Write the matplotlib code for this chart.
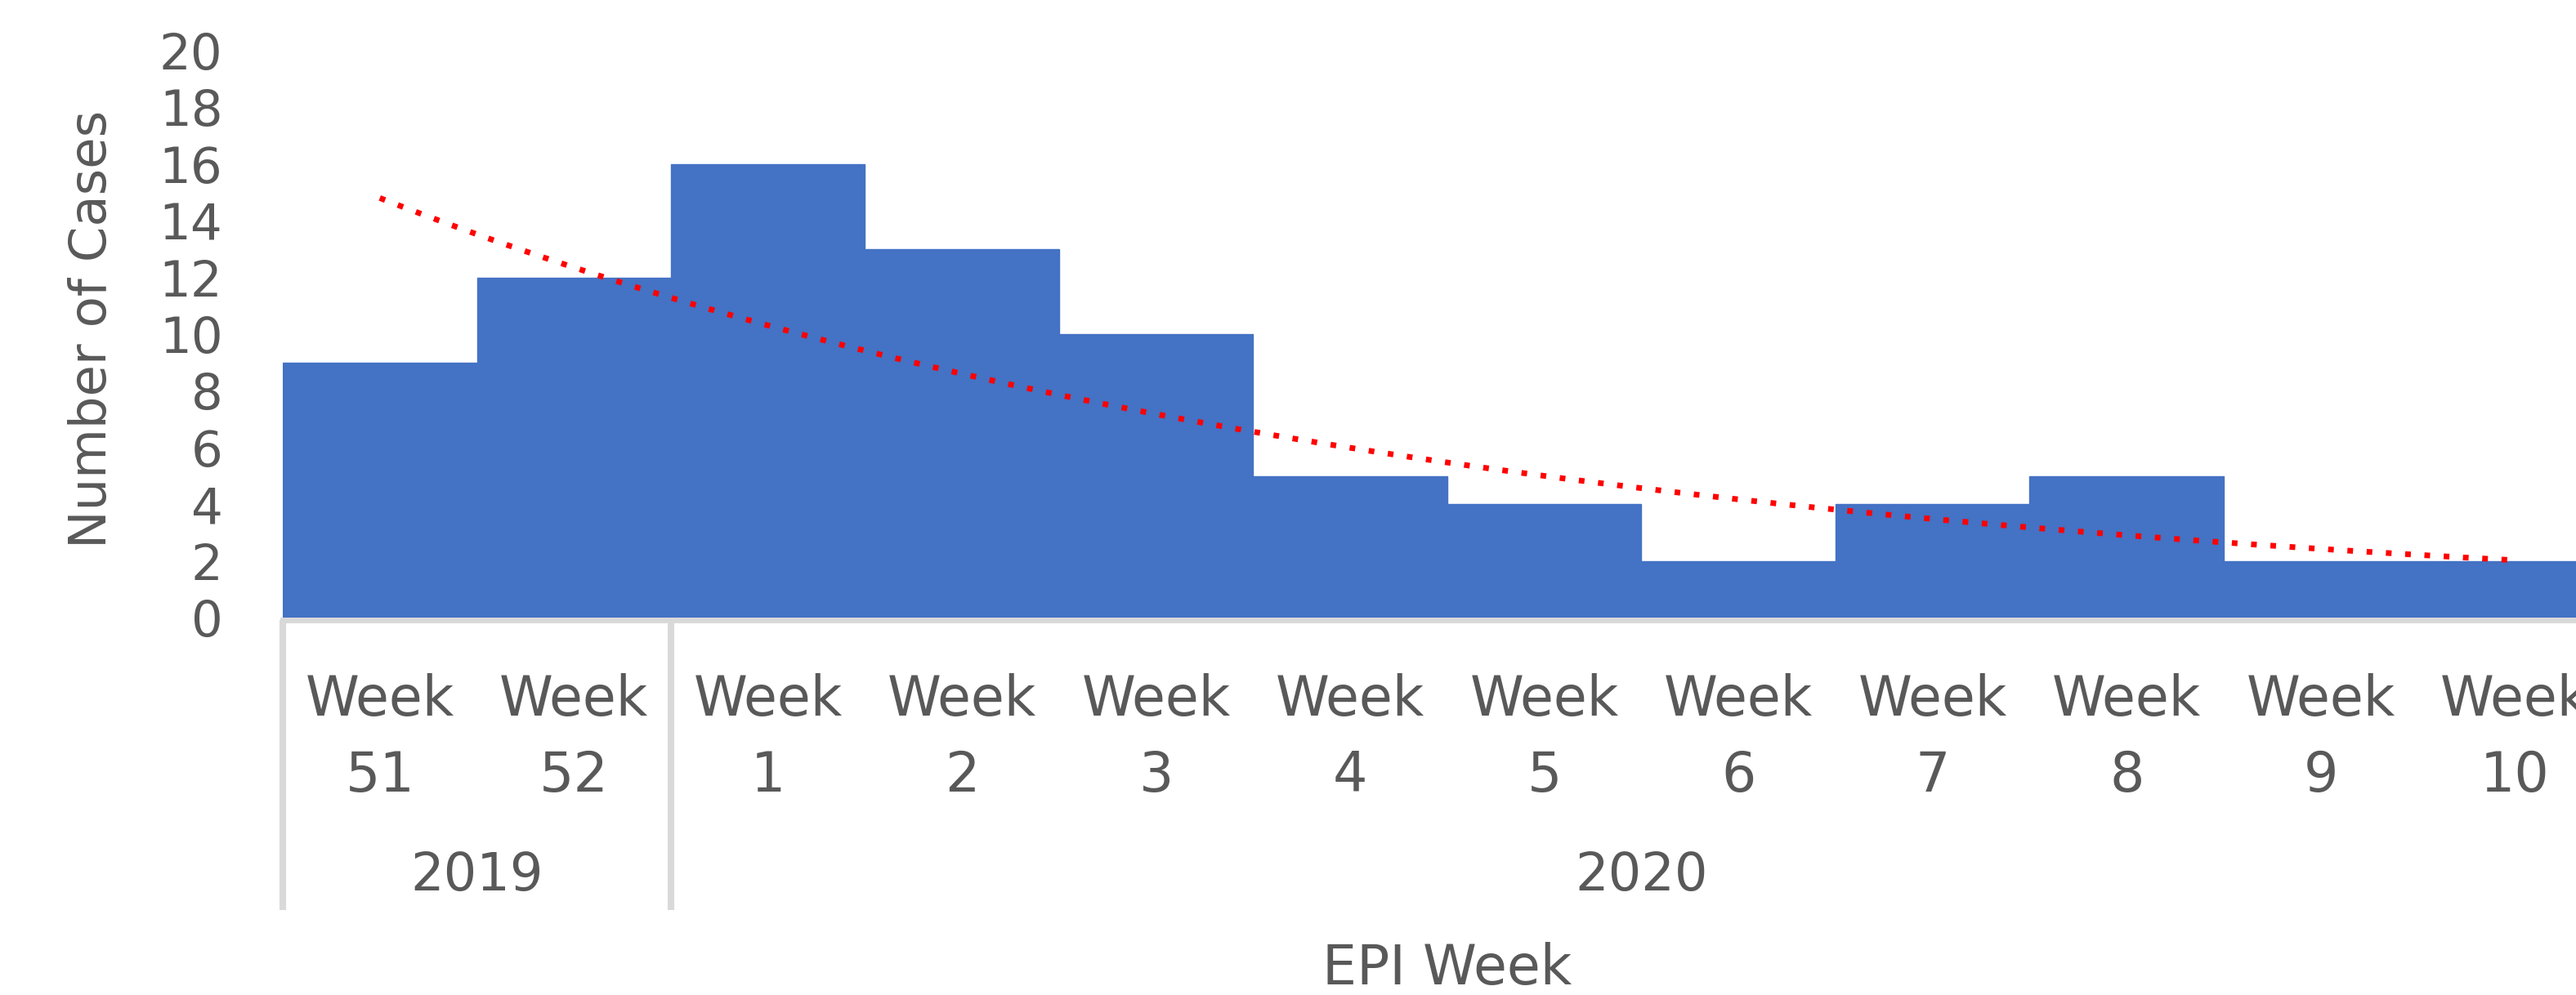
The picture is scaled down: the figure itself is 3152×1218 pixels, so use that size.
import numpy as np
import matplotlib
matplotlib.use("Agg")
import matplotlib.pyplot as plt
from matplotlib import font_manager

# ---------------- data ----------------
week_labels = ["51", "52", "1", "2", "3", "4", "5", "6", "7", "8", "9", "10"]
week_years = ["2019", "2019", "2020", "2020", "2020", "2020", "2020", "2020",
              "2020", "2020", "2020", "2020"]
cases = [9, 12, 16, 13, 10, 5, 4, 2, 4, 5, 2, 2]
y_ticks = [0, 2, 4, 6, 8, 10, 12, 14, 16, 18, 20]
y_title = "Number of Cases"
x_title = "EPI Week"
week_word = "Week"

# ---------------- style ----------------
BAR = "#4472C4"
TREND = "#FF0000"
TXT = "#595959"
GRID = "#D9D9D9"

W, H = 3152, 1218
fig = plt.figure(figsize=(W / 100, H / 100), dpi=100)

# axes geometry in pixels (extends a little beyond the right edge, like the reference)
ax_left, ax_right = 346, 3196
y0_px, y20_px = 756, 62
ax = fig.add_axes([ax_left / W, (H - y0_px) / H, (ax_right - ax_left) / W, (y0_px - y20_px) / H])

def ay(py):
    return (y0_px - py) / (y0_px - y20_px)

x = np.arange(len(cases))
ax.bar(x, cases, width=1.0, color=BAR, edgecolor=BAR, linewidth=1.0, zorder=2)

# exponential trendline fitted to the data (as Excel does)
coef = np.polyfit(x, np.log(cases), 1)
xs = np.linspace(x[0], x[-1], 400)
ax.plot(xs, np.exp(np.polyval(coef, xs)), color=TREND, lw=5.0,
        linestyle=(0, (1, 2.4)), dash_capstyle="butt", zorder=3)

ax.set_xlim(-0.5, len(cases) - 0.5)
ax.set_ylim(y_ticks[0], y_ticks[-1])

ax.set_yticks(y_ticks)
ax.set_yticklabels([str(v) for v in y_ticks], fontsize=44, color=TXT, family="DejaVu Sans")
ax.tick_params(axis="y", length=0, pad=53)
ax.set_xticks([])

for s in ["top", "right", "left"]:
    ax.spines[s].set_visible(False)
ax.spines["bottom"].set_color(GRID)
ax.spines["bottom"].set_linewidth(5.0)
ax.spines["bottom"].set_position(("outward", 2.5))

trans = ax.get_xaxis_transform()

# category labels
for i, w in enumerate(week_labels):
    ax.text(i, ay(876), week_word, transform=trans, ha="center", va="baseline",
            fontsize=48, color=TXT, family="DejaVu Sans")
    ax.text(i, ay(969), w, transform=trans, ha="center", va="baseline",
            fontsize=48, color=TXT, family="DejaVu Sans")

# year groups and separators
groups = []
for i, yr in enumerate(week_years):
    if not groups or groups[-1][0] != yr:
        groups.append([yr, i, i])
    else:
        groups[-1][2] = i
bounds = sorted({g[1] - 0.5 for g in groups} | {g[2] + 0.5 for g in groups})
for b in bounds:
    ax.plot([b, b], [-0.004, ay(1114)], transform=trans, clip_on=False,
            color=GRID, lw=5.8, solid_capstyle="butt", zorder=1)
for yr, a, b in groups:
    ax.text((a + b) / 2, ay(1090), yr, transform=trans, ha="center", va="baseline",
            fontsize=46, color=TXT, family="DejaVu Sans")

# axis titles
ax.text(0.5, ay(1205), x_title, transform=ax.transAxes, ha="center", va="baseline",
        fontsize=48, color=TXT, family="DejaVu Sans")

names = {f.name for f in font_manager.fontManager.ttflist}
if "Liberation Sans Narrow" in names:
    tfam, tsize = ["Liberation Sans Narrow", "DejaVu Sans"], 57
else:
    tfam, tsize = ["DejaVu Sans"], 45
fig.text(130 / W, (H - 403) / H, y_title, rotation=90, rotation_mode="anchor",
         ha="center", va="baseline", fontsize=tsize, color=TXT, family=tfam)

fig.savefig("out.png", dpi=100, facecolor="white")
